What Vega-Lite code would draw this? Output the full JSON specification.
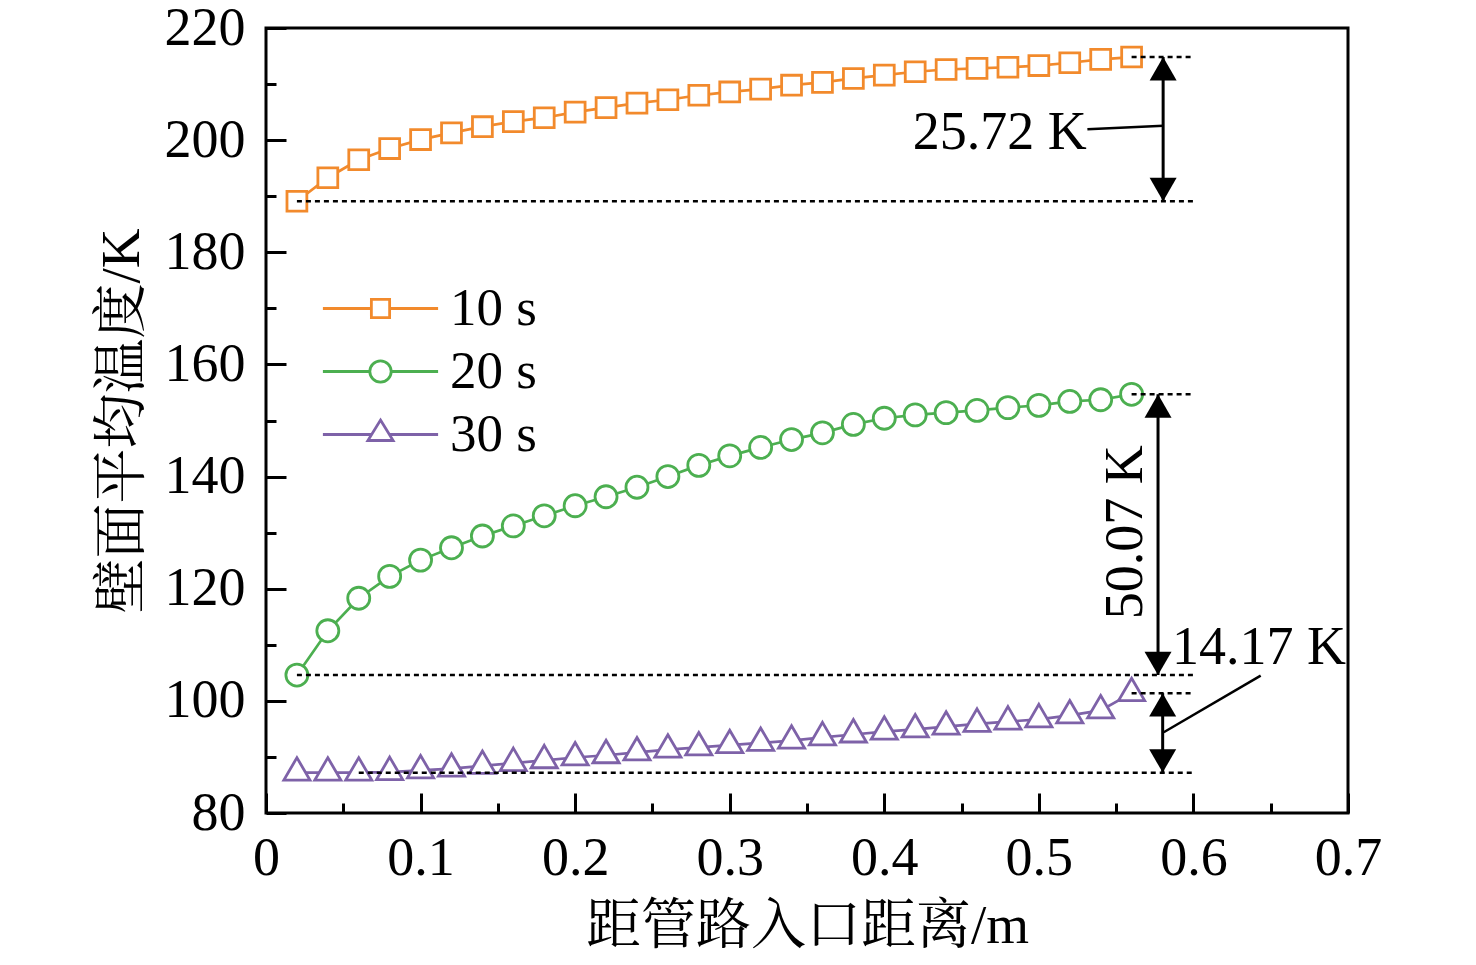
{
  "$schema": "https://vega.github.io/schema/vega-lite/v6.json",
  "description": "壁面平均温度 vs 距管路入口距离, 10 s / 20 s / 30 s",
  "width": 1082,
  "height": 785,
  "autosize": {"type": "none"},
  "padding": {"left": 266, "top": 28, "right": 128, "bottom": 152},
  "background": "white",
  "datasets": {
    "series": [
      {"x": 0.02, "T": 189.1, "s": "10 s"},
      {"x": 0.04, "T": 193.3, "s": "10 s"},
      {"x": 0.06, "T": 196.5, "s": "10 s"},
      {"x": 0.08, "T": 198.5, "s": "10 s"},
      {"x": 0.10, "T": 200.1, "s": "10 s"},
      {"x": 0.12, "T": 201.3, "s": "10 s"},
      {"x": 0.14, "T": 202.4, "s": "10 s"},
      {"x": 0.16, "T": 203.3, "s": "10 s"},
      {"x": 0.18, "T": 204.0, "s": "10 s"},
      {"x": 0.20, "T": 205.0, "s": "10 s"},
      {"x": 0.22, "T": 205.8, "s": "10 s"},
      {"x": 0.24, "T": 206.6, "s": "10 s"},
      {"x": 0.26, "T": 207.2, "s": "10 s"},
      {"x": 0.28, "T": 208.0, "s": "10 s"},
      {"x": 0.30, "T": 208.6, "s": "10 s"},
      {"x": 0.32, "T": 209.1, "s": "10 s"},
      {"x": 0.34, "T": 209.8, "s": "10 s"},
      {"x": 0.36, "T": 210.3, "s": "10 s"},
      {"x": 0.38, "T": 211.0, "s": "10 s"},
      {"x": 0.40, "T": 211.6, "s": "10 s"},
      {"x": 0.42, "T": 212.2, "s": "10 s"},
      {"x": 0.44, "T": 212.6, "s": "10 s"},
      {"x": 0.46, "T": 212.8, "s": "10 s"},
      {"x": 0.48, "T": 213.0, "s": "10 s"},
      {"x": 0.50, "T": 213.3, "s": "10 s"},
      {"x": 0.52, "T": 213.8, "s": "10 s"},
      {"x": 0.54, "T": 214.4, "s": "10 s"},
      {"x": 0.56, "T": 214.82, "s": "10 s"},
      {"x": 0.02, "T": 104.6, "s": "20 s"},
      {"x": 0.04, "T": 112.5, "s": "20 s"},
      {"x": 0.06, "T": 118.3, "s": "20 s"},
      {"x": 0.08, "T": 122.2, "s": "20 s"},
      {"x": 0.10, "T": 125.1, "s": "20 s"},
      {"x": 0.12, "T": 127.3, "s": "20 s"},
      {"x": 0.14, "T": 129.4, "s": "20 s"},
      {"x": 0.16, "T": 131.2, "s": "20 s"},
      {"x": 0.18, "T": 133.0, "s": "20 s"},
      {"x": 0.20, "T": 134.8, "s": "20 s"},
      {"x": 0.22, "T": 136.4, "s": "20 s"},
      {"x": 0.24, "T": 138.1, "s": "20 s"},
      {"x": 0.26, "T": 140.0, "s": "20 s"},
      {"x": 0.28, "T": 142.0, "s": "20 s"},
      {"x": 0.30, "T": 143.7, "s": "20 s"},
      {"x": 0.32, "T": 145.2, "s": "20 s"},
      {"x": 0.34, "T": 146.6, "s": "20 s"},
      {"x": 0.36, "T": 147.8, "s": "20 s"},
      {"x": 0.38, "T": 149.3, "s": "20 s"},
      {"x": 0.40, "T": 150.4, "s": "20 s"},
      {"x": 0.42, "T": 151.0, "s": "20 s"},
      {"x": 0.44, "T": 151.4, "s": "20 s"},
      {"x": 0.46, "T": 151.8, "s": "20 s"},
      {"x": 0.48, "T": 152.3, "s": "20 s"},
      {"x": 0.50, "T": 152.7, "s": "20 s"},
      {"x": 0.52, "T": 153.4, "s": "20 s"},
      {"x": 0.54, "T": 153.7, "s": "20 s"},
      {"x": 0.56, "T": 154.67, "s": "20 s"},
      {"x": 0.02, "T": 87.2, "s": "30 s"},
      {"x": 0.04, "T": 87.2, "s": "30 s"},
      {"x": 0.06, "T": 87.2, "s": "30 s"},
      {"x": 0.08, "T": 87.3, "s": "30 s"},
      {"x": 0.10, "T": 87.6, "s": "30 s"},
      {"x": 0.12, "T": 87.9, "s": "30 s"},
      {"x": 0.14, "T": 88.4, "s": "30 s"},
      {"x": 0.16, "T": 88.9, "s": "30 s"},
      {"x": 0.18, "T": 89.4, "s": "30 s"},
      {"x": 0.20, "T": 89.9, "s": "30 s"},
      {"x": 0.22, "T": 90.3, "s": "30 s"},
      {"x": 0.24, "T": 90.8, "s": "30 s"},
      {"x": 0.26, "T": 91.3, "s": "30 s"},
      {"x": 0.28, "T": 91.7, "s": "30 s"},
      {"x": 0.30, "T": 92.1, "s": "30 s"},
      {"x": 0.32, "T": 92.5, "s": "30 s"},
      {"x": 0.34, "T": 92.9, "s": "30 s"},
      {"x": 0.36, "T": 93.5, "s": "30 s"},
      {"x": 0.38, "T": 94.0, "s": "30 s"},
      {"x": 0.40, "T": 94.5, "s": "30 s"},
      {"x": 0.42, "T": 94.9, "s": "30 s"},
      {"x": 0.44, "T": 95.4, "s": "30 s"},
      {"x": 0.46, "T": 95.9, "s": "30 s"},
      {"x": 0.48, "T": 96.3, "s": "30 s"},
      {"x": 0.50, "T": 96.7, "s": "30 s"},
      {"x": 0.52, "T": 97.4, "s": "30 s"},
      {"x": 0.54, "T": 98.3, "s": "30 s"},
      {"x": 0.56, "T": 101.37, "s": "30 s"}
    ],
    "dashes": [
      {"x": 0.02, "x2": 0.6, "T": 189.1},
      {"x": 0.56, "x2": 0.6, "T": 214.82},
      {"x": 0.02, "x2": 0.6, "T": 104.6},
      {"x": 0.56, "x2": 0.6, "T": 154.67},
      {"x": 0.06, "x2": 0.6, "T": 87.2},
      {"x": 0.56, "x2": 0.6, "T": 101.37}
    ],
    "arrows": [
      {"x": 0.5804, "lo": 189.1, "hi": 214.82},
      {"x": 0.5771, "lo": 104.6, "hi": 154.67},
      {"x": 0.5801, "lo": 87.2, "hi": 101.37}
    ],
    "leaders": [
      {"x": 0.5314, "T": 201.96, "x2": 0.5806, "T2": 202.55},
      {"x": 0.6435, "T": 104.5, "x2": 0.5808, "T2": 94.4}
    ],
    "labels": [
      {"x": 0.531, "T": 198.5, "label": "25.72 K"},
      {"x": 0.6987, "T": 106.6, "label": "14.17 K"}
    ],
    "vlabels": [
      {"x": 0.5665, "T": 130.07, "label": "50.07 K"}
    ]
  },
  "resolve": {
    "axis": {"x": "independent", "y": "independent"},
    "scale": {"shape": "independent", "stroke": "independent"}
  },
  "layer": [
    {
      "data": {"name": "series"},
      "mark": {"type": "line", "strokeWidth": 2.7},
      "encoding": {
        "x": {
          "field": "x", "type": "quantitative",
          "scale": {"domain": [0, 0.7], "nice": false, "zero": false},
          "axis": {
            "orient": "bottom",
            "values": [0, 0.1, 0.2, 0.3, 0.4, 0.5, 0.6, 0.7],
            "format": "~g",
            "tickSize": -20,
            "labelPadding": 38,
            "title": "距管路入口距离/m",
            "titlePadding": 14
          }
        },
        "y": {
          "field": "T", "type": "quantitative",
          "scale": {"domain": [80, 220], "nice": false, "zero": false},
          "axis": {
            "orient": "left",
            "values": [80, 100, 120, 140, 160, 180, 200, 220],
            "format": "d",
            "tickSize": -20,
            "labelPadding": 41,
            "title": "壁面平均温度/K",
            "titlePadding": 14
          }
        },
        "stroke": {
          "field": "s", "type": "nominal",
          "scale": {"domain": ["10 s", "20 s", "30 s"], "range": ["#F28A2C", "#4CAF50", "#7E62A8"]},
          "legend": null
        },
        "detail": {"field": "s"}
      }
    },
    {
      "data": {"name": "series"},
      "mark": {"type": "point", "filled": true, "fill": "white", "strokeWidth": 2.8, "size": 740, "opacity": 1, "strokeJoin": "miter"},
      "encoding": {
        "x": {
          "field": "x", "type": "quantitative",
          "axis": {
            "orient": "bottom",
            "values": [0.05, 0.15, 0.25, 0.35, 0.45, 0.55, 0.65],
            "tickSize": -10,
            "labels": false,
            "title": null
          }
        },
        "y": {
          "field": "T", "type": "quantitative",
          "axis": {
            "orient": "left",
            "values": [90, 110, 130, 150, 170, 190, 210],
            "tickSize": -10,
            "labels": false,
            "title": null
          }
        },
        "stroke": {
          "field": "s", "type": "nominal",
          "scale": {"domain": ["10 s", "20 s", "30 s"], "range": ["#F28A2C", "#4CAF50", "#7E62A8"]},
          "legend": null
        },
        "shape": {
          "field": "s", "type": "nominal",
          "scale": {
            "domain": ["10 s", "20 s", "30 s"],
            "range": [
              "M-0.73,-0.73H0.73V0.73H-0.73Z",
              "M0.81,0A0.81,0.81 0 1,1 -0.81,0A0.81,0.81 0 1,1 0.81,0Z",
              "M0,-1.1L0.96,0.55L-0.96,0.55Z"
            ]
          },
          "legend": null
        }
      }
    },
    {
      "data": {"name": "dashes"},
      "mark": {"type": "rule", "color": "black", "strokeWidth": 2.5, "strokeDash": [5, 4]},
      "encoding": {
        "x": {"field": "x", "type": "quantitative", "axis": null},
        "x2": {"field": "x2"},
        "y": {"field": "T", "type": "quantitative", "axis": null}
      }
    },
    {
      "data": {"name": "arrows"},
      "mark": {"type": "rule", "color": "black", "strokeWidth": 3},
      "encoding": {
        "x": {"field": "x", "type": "quantitative", "axis": null},
        "y": {"field": "lo", "type": "quantitative", "axis": null},
        "y2": {"field": "hi"}
      }
    },
    {
      "data": {"name": "arrows"},
      "mark": {"type": "point", "shape": "triangle-up", "filled": true, "color": "black", "opacity": 1, "size": 729, "yOffset": 11.7},
      "encoding": {
        "x": {"field": "x", "type": "quantitative", "axis": null},
        "y": {"field": "hi", "type": "quantitative", "axis": null}
      }
    },
    {
      "data": {"name": "arrows"},
      "mark": {"type": "point", "shape": "triangle-down", "filled": true, "color": "black", "opacity": 1, "size": 729, "yOffset": -11.7},
      "encoding": {
        "x": {"field": "x", "type": "quantitative", "axis": null},
        "y": {"field": "lo", "type": "quantitative", "axis": null}
      }
    },
    {
      "data": {"name": "leaders"},
      "mark": {"type": "rule", "color": "black", "strokeWidth": 2.5},
      "encoding": {
        "x": {"field": "x", "type": "quantitative", "axis": null},
        "y": {"field": "T", "type": "quantitative", "axis": null},
        "x2": {"field": "x2"},
        "y2": {"field": "T2"}
      }
    },
    {
      "data": {"name": "labels"},
      "mark": {"type": "text", "align": "right", "baseline": "alphabetic", "font": "Liberation Serif", "fontSize": 54, "color": "black"},
      "encoding": {
        "x": {"field": "x", "type": "quantitative", "axis": null},
        "y": {"field": "T", "type": "quantitative", "axis": null},
        "text": {"field": "label"}
      }
    },
    {
      "data": {"name": "vlabels"},
      "mark": {"type": "text", "align": "center", "baseline": "alphabetic", "angle": 270, "font": "Liberation Serif", "fontSize": 54, "color": "black"},
      "encoding": {
        "x": {"field": "x", "type": "quantitative", "axis": null},
        "y": {"field": "T", "type": "quantitative", "axis": null},
        "text": {"field": "label"}
      }
    },
    {
      "data": {"name": "series"},
      "transform": [{"filter": "datum.x < 0"}],
      "mark": {"type": "point", "filled": true, "fill": "white", "strokeWidth": 2.8, "size": 576, "opacity": 1},
      "encoding": {
        "x": {"field": "x", "type": "quantitative", "axis": null},
        "y": {"field": "T", "type": "quantitative", "axis": null},
        "stroke": {
          "field": "s", "type": "nominal",
          "scale": {"domain": ["10 s", "20 s", "30 s"], "range": ["#F28A2C", "#4CAF50", "#7E62A8"]},
          "legend": {"title": null}
        },
        "shape": {
          "field": "s", "type": "nominal",
          "scale": {
            "domain": ["10 s", "20 s", "30 s"],
            "range": [
              "M-4.8,0H-0.76M0.76,0H4.8M-0.76,-0.76H0.76V0.76H-0.76Z",
              "M-4.8,0H-0.89M0.89,0H4.8M0.89,0A0.89,0.89 0 1,1 -0.89,0A0.89,0.89 0 1,1 0.89,0Z",
              "M-4.8,0H-0.74M0.74,0H4.8M0,-1.2L1.05,0.5L-1.05,0.5Z"
            ]
          },
          "legend": {"title": null}
        }
      }
    }
  ],
  "config": {
    "font": "Liberation Serif",
    "view": {"stroke": "black", "strokeWidth": 3},
    "axis": {
      "grid": false,
      "domain": false,
      "tickColor": "black",
      "tickWidth": 3,
      "labelColor": "black",
      "labelFont": "Liberation Serif",
      "labelFontSize": 54,
      "labelFlush": false,
      "labelOverlap": false,
      "titleColor": "black",
      "titleFont": "Liberation Serif, Noto Serif CJK SC, Noto Sans CJK SC",
      "titleFontSize": 55,
      "titleFontWeight": "normal"
    },
    "legend": {
      "orient": "none",
      "legendX": 88,
      "legendY": 254,
      "padding": 0,
      "labelFont": "Liberation Serif",
      "labelFontSize": 53,
      "labelColor": "black",
      "labelOffset": 43,
      "rowPadding": 9,
      "symbolSize": 576,
      "symbolStrokeWidth": 2.8,
      "symbolOpacity": 1,
      "symbolFillColor": "white"
    }
  }
}
